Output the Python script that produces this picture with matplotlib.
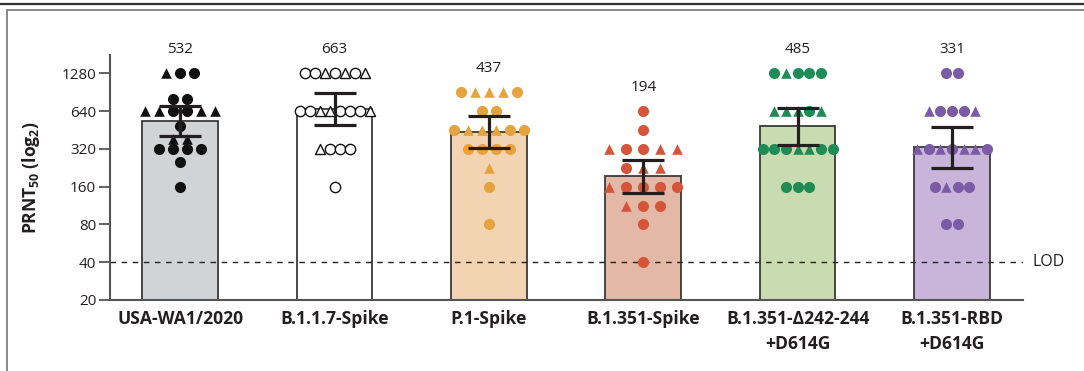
import numpy as np
import matplotlib.pyplot as plt
from matplotlib.lines import Line2D

plt.rcParams['font.family'] = ['Open Sans', 'DejaVu Sans']
plt.rcParams['mathtext.fontset'] = 'custom'
plt.rcParams['mathtext.rm'] = 'Open Sans'
plt.rcParams['mathtext.bf'] = 'Open Sans:bold'

# categories and summary values (geometric mean titre, 95% CI)
categories = ['USA-WA1/2020', 'B.1.1.7-Spike', 'P.1-Spike', 'B.1.351-Spike',
              'B.1.351-\u0394242-244\n+D614G', 'B.1.351-RBD\n+D614G']
gmt = [532, 663, 437, 194, 485, 331]
ci_upper = [701, 890, 585, 261, 676, 478]
ci_lower = [404, 495, 325, 143, 345, 226]

# individual sera, rows listed left to right ('o' circle, '^' triangle)
usa_vals = [1280, 1280, 1280, 800, 800, 640, 640, 640, 640, 640, 640,
            490, 380, 380, 320, 320, 320, 320, 250, 160]
usa_marks = ['^', 'o', 'o', 'o', 'o', '^', '^', 'o', 'o', '^', '^',
             'o', '^', '^', 'o', 'o', 'o', 'o', 'o', 'o']

b117_vals = [1280] * 7 + [640] * 8 + [320] * 4 + [160]
b117_marks = ['o', 'o', '^', 'o', '^', 'o', '^',
              'o', 'o', '^', '^', 'o', 'o', 'o', '^',
              '^', 'o', 'o', 'o', 'o']

p1_vals = [905] * 5 + [640] * 2 + [453] * 6 + [320] * 4 + [226, 160, 80]
p1_marks = ['o', '^', '^', '^', 'o', 'o', 'o',
            'o', '^', '^', '^', 'o', 'o', 'o', 'o', 'o', 'o', '^', 'o', 'o']

b1351_vals = [640, 453] + [320] * 5 + [226] * 3 + [160] * 5 + [113] * 3 + [80, 40]
b1351_marks = ['o', 'o', '^', 'o', 'o', '^', '^', 'o', '^', '^',
               '^', 'o', 'o', 'o', 'o', '^', 'o', 'o', 'o', 'o']

d242_vals = [1280] * 5 + [640] * 5 + [320] * 7 + [160] * 3
d242_marks = ['o', '^', 'o', 'o', 'o', '^', '^', '^', 'o', '^',
              'o', 'o', 'o', '^', '^', 'o', 'o', 'o', 'o', 'o']

rbd_vals = [1280] * 2 + [640] * 5 + [320] * 7 + [160] * 4 + [80] * 2
rbd_marks = ['o', 'o', '^', 'o', 'o', 'o', '^',
             '^', 'o', '^', 'o', '^', '^', 'o', 'o', '^', 'o', 'o', 'o', 'o']

group_vals = [usa_vals, b117_vals, p1_vals, b1351_vals, d242_vals, rbd_vals]
group_marks = [usa_marks, b117_marks, p1_marks, b1351_marks, d242_marks, rbd_marks]

# styles
bar_colors = ['#d1d3d4', '#ffffff', '#f2d4b2', '#e4b8a6', '#c9dbb1', '#c9b5d9']
pt_colors = ['#111111', '#111111', '#e6a23c', '#d4553a', '#1f8c55', '#7b5aa6']
open_pts = [False, True, False, False, False, False]
spacing_px = [14, 10, 14, 17, 11.7, 11.6]
px_per_unit = 154.4
txt = '#231f20'

fig = plt.figure(figsize=(10.84, 3.71), dpi=100)
ax = fig.add_axes([0.1015, 0.1914, 0.8422, 0.6604])
ax.set_yscale('log', base=2)
ymin, ymax = 20, 1790
ax.set_ylim(ymin, ymax)
ax.set_xlim(-0.455, 5.46)

x = np.arange(len(categories))
heights = np.array(gmt) - ymin
ax.bar(x, heights, bottom=ymin, width=0.49, color=bar_colors,
       edgecolor='#3a3a3a', linewidth=1.3, zorder=1)

for i, (vals, marks) in enumerate(zip(group_vals, group_marks)):
    vals = np.array(vals, dtype=float)
    offs = np.zeros(len(vals))
    for v in np.unique(vals):
        idx = np.where(vals == v)[0]
        n = len(idx)
        offs[idx] = (np.arange(n) - (n - 1) / 2) * spacing_px[i] / px_per_unit
    for m in ['o', '^']:
        sel = np.array([mk == m for mk in marks])
        if not sel.any():
            continue
        if open_pts[i]:
            ax.scatter(x[i] + offs[sel], vals[sel], marker=m, s=55 if m == 'o' else 52,
                       facecolor='white', edgecolor=pt_colors[i], linewidth=1.0, zorder=3)
        else:
            ax.scatter(x[i] + offs[sel], vals[sel], marker=m, s=64 if m == 'o' else 58,
                       color=pt_colors[i], linewidth=0, zorder=3)
    top = vals.max() * 2 ** (24 / 37.8)
    ax.text(x[i], top, str(gmt[i]), ha='center', va='center', fontsize=11,
            color=txt, clip_on=False)

g = np.array(gmt)
ax.errorbar(x, g, yerr=[g - np.array(ci_lower), np.array(ci_upper) - g], fmt='none',
            ecolor=txt, elinewidth=2.3, capsize=15, capthick=2.3, zorder=4)

# limit of detection
ax.axhline(40, color='#222222', linewidth=1.0, linestyle=(0, (4, 4)), zorder=2)
ax.text(1.01, 40, 'LOD', transform=ax.get_yaxis_transform(), ha='left', va='center',
        fontsize=11.5, color=txt, clip_on=False)

yticks = [20, 40, 80, 160, 320, 640, 1280]
ax.set_yticks(yticks, [str(t) for t in yticks])
ax.yaxis.set_minor_locator(plt.NullLocator())
ax.tick_params(axis='y', length=8, width=1.3, color='#555555', labelsize=11,
               labelcolor=txt, pad=2)
ax.set_xticks(x, categories)
ax.tick_params(axis='x', length=0, pad=7, labelsize=12.6, labelcolor=txt)
for lab in ax.get_xticklabels():
    lab.set_fontweight('bold')
    lab.set_linespacing(1.5)

for s in ['top', 'right']:
    ax.spines[s].set_visible(False)
for s in ['left', 'bottom']:
    ax.spines[s].set_color('#555555')
    ax.spines[s].set_linewidth(1.5)

fig.text(0.029, 0.52, r'$\mathbf{PRNT}_{\mathbf{50}}$ $\mathbf{(log}_{\mathbf{2}}\mathbf{)}$',
         rotation=90, ha='center', va='center', fontsize=12.6, color=txt)

# frame lines
H = 371.0
fig.add_artist(Line2D([0, 1], [1 - 4 / H, 1 - 4 / H], color='#333333', linewidth=1.6))
fig.add_artist(Line2D([7 / 1084, 1], [1 - 10 / H, 1 - 10 / H], color='#888888', linewidth=1.4))
fig.add_artist(Line2D([7 / 1084, 7 / 1084], [0, 1 - 10 / H], color='#888888', linewidth=1.4))

fig.savefig('out.png', dpi=100)
